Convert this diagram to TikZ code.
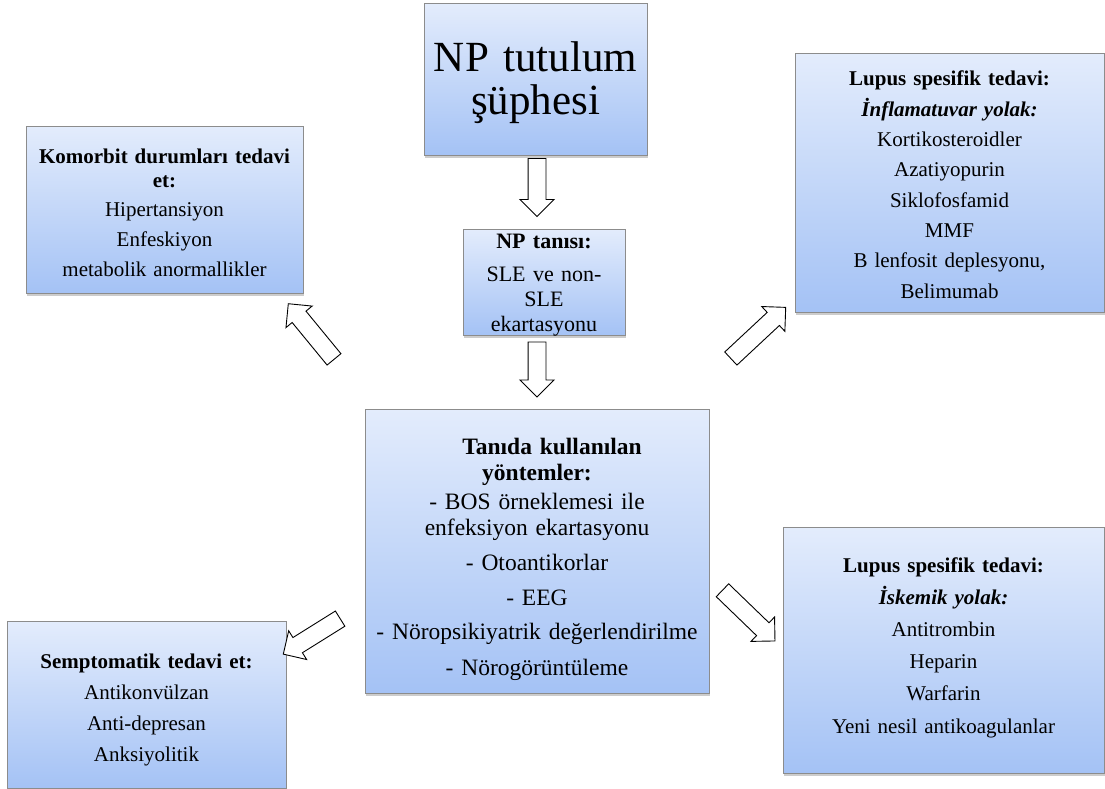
\documentclass[tikz,border=0pt]{standalone}
\usepackage{fontspec}
\setmainfont{Liberation Serif}
\usetikzlibrary{shapes.arrows,shadows}
\definecolor{boxtop}{HTML}{E3ECFC}
\definecolor{boxbot}{HTML}{A4C2F5}
\definecolor{boxline}{HTML}{8C8C8C}
\begin{document}
\begin{tikzpicture}[x=1pt,y=-1pt,
 panel/.style={draw=boxline, line width=0.8pt, top color=boxtop, bottom color=boxbot,
   drop shadow={shadow xshift=1pt, shadow yshift=-3pt, opacity=0.4},
   anchor=north west, inner sep=0pt},
 boxtext/.style={anchor=base, inner sep=0pt, text width=#1, align=center},
 blockarrow/.style={single arrow, draw=black, fill=white, line width=0.9pt,
   inner xsep=0pt, inner ysep=8.5pt, single arrow head extend=8pt, minimum height=#1},
]
\path[fill=white, use as bounding box] (0,0) rectangle (1105,789);

% panels
\node[panel, minimum width=223pt, minimum height=152pt] (b1) at (424,3) {};
\node[panel, minimum width=162pt, minimum height=106pt] (b2) at (463,229) {};
\node[panel, minimum width=277pt, minimum height=167pt] (b3) at (26,126) {};
\node[panel, minimum width=309pt, minimum height=259pt] (b4) at (795,53) {};
\node[panel, minimum width=344pt, minimum height=284pt] (b5) at (365,409) {};
\node[panel, minimum width=279pt, minimum height=167pt] (b6) at (7,621) {};
\node[panel, minimum width=321pt, minimum height=246pt] (b7) at (783,527) {};

% texts
\node[boxtext=210pt, font=\fontsize{43}{43}\selectfont] (t1) at (535.5,72)
  {NP tutulum\\şüphesi};
\node[boxtext=160pt, font=\fontsize{22}{25}\selectfont] (t2) at (544,248)
  {\textbf{NP tanısı:}\\[8pt]SLE ve non-\\SLE\\ekartasyonu};
\node[boxtext=275pt, font=\fontsize{21}{24}\selectfont] (t3) at (164.5,164)
  {\textbf{Komorbit durumları tedavi}\\\textbf{et:}\\[4pt]Hipertansiyon\\[6pt]Enfeskiyon\\[6pt]metabolik anormallikler};
\node[boxtext=300pt, font=\fontsize{21}{30.3}\selectfont] (t4) at (949.5,86)
  {\textbf{Lupus spesifik tedavi:}\\\textbf{\textit{İnflamatuvar yolak:}}\\Kortikosteroidler\\Azatiyopurin\\Siklofosfamid\\MMF\\B lenfosit deplesyonu,\\Belimumab};
\node[boxtext=340pt, font=\fontsize{23.5}{26}\selectfont] (t5) at (537,454)
  {\hspace*{30pt}\textbf{Tanıda kullanılan}\\\textbf{yöntemler:}\\[3pt]- BOS örneklemesi ile\\enfeksiyon ekartasyonu\\[9pt]- Otoantikorlar\\[9pt]- EEG\\[8pt]- Nöropsikiyatrik değerlendirilme\\[10pt]- Nörogörüntüleme};
\node[boxtext=275pt, font=\fontsize{21}{31}\selectfont] (t6) at (146.5,668)
  {\textbf{Semptomatik tedavi et:}\\Antikonvülzan\\Anti-depresan\\Anksiyolitik};
\node[boxtext=315pt, font=\fontsize{21}{32.2}\selectfont] (t7) at (943.5,572)
  {\textbf{Lupus spesifik tedavi:}\\\textbf{\textit{İskemik yolak:}}\\Antitrombin\\Heparin\\Warfarin\\Yeni nesil antikoagulanlar};

% block arrows
\node[blockarrow=58pt, rotate=-90] (a1) at (537,183) {};
\node[blockarrow=55pt, rotate=-90] (a2) at (537,365) {};
\node[blockarrow=72pt, rotate=129.4] (a3) at (314,335) {};
\node[blockarrow=75pt, rotate=43] (a4) at (755,336) {};
\node[blockarrow=67pt, rotate=212] (a5) at (315.5,634) {};
\node[blockarrow=73pt, rotate=-44] (a6) at (745.5,612.5) {};
\end{tikzpicture}
\end{document}
